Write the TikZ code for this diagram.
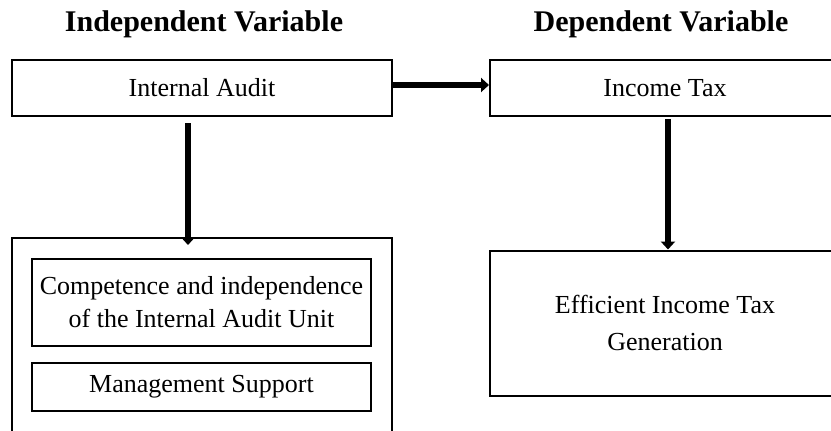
\documentclass[tikz,border=0pt]{standalone}
\usepackage{fontspec}
\setmainfont{Liberation Serif}
\usetikzlibrary{arrows.meta}
\begin{document}
\begin{tikzpicture}[x=0.5pt,y=0.5pt,yscale=-1,xscale=1,
  box/.style={draw,line width=1pt,inner sep=0pt,align=center,font=\fontsize{13}{16.5}\selectfont},
  head/.style={inner sep=0pt,anchor=base,font=\fontsize{15}{16}\selectfont\bfseries},
  link/.style={line width=3pt,-{Triangle[length=4pt,width=7pt]}}]
\useasboundingbox (0,0) rectangle (831,430);
\node[head] (indep) at (204,31) {Independent Variable};
\node[head] (dep) at (661,31) {Dependent Variable};
\node[box,minimum width=190pt,minimum height=28pt] (audit) at (202,88) {Internal Audit};
\node[box,minimum width=175pt,minimum height=28pt] (tax) at (665,88) {Income Tax};
\node[box,minimum width=190pt,minimum height=106pt] (group) at (202,344) {};
\node[box,minimum width=169.5pt,minimum height=43.5pt] (comp) at (201.5,302.5) {Competence and independence\\of the Internal Audit Unit};
\node[box,minimum width=169.5pt,minimum height=24pt] (mgmt) at (201.5,387) {Management Support};
\node[box,minimum width=175pt,minimum height=72.5pt,font=\fontsize{13}{18.5}\selectfont] (eff) at (665,323) {Efficient Income Tax\\Generation};
\draw[link] ([yshift=-1.5pt]audit.east) -- ([yshift=-1.5pt]tax.west);
\draw[link] ([xshift=-7pt,yshift=3pt]audit.south) -- ([xshift=-7pt,yshift=4pt]group.north);
\draw[link] ([xshift=1.5pt,yshift=1pt]tax.south) -- ([xshift=1.5pt]eff.north);
\end{tikzpicture}
\end{document}
